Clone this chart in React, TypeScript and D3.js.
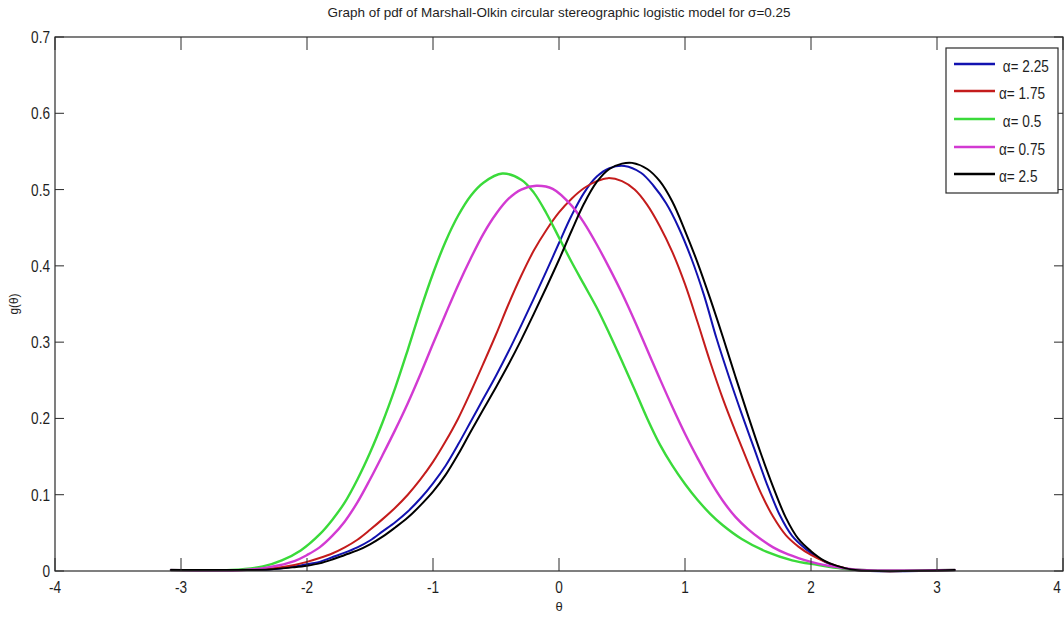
import React from 'react'
import * as d3 from 'd3'

// legend order = draw order (black ends up on top)
const seriesLabels = [' α= 2.25', 'α= 1.75', ' α= 0.5', 'α= 0.75', 'α= 2.5']
const seriesColors = ['#1212b0', '#c41c1c', '#3ada3a', '#d23ad2', '#000000']

// θ samples and g(θ) values, one pair per α
const thetaA225 = [-3.08, -2.5, -2.3, -2.1, -2, -1.9, -1.8, -1.7, -1.6, -1.5, -1.4, -1.3, -1.2, -1.1, -1, -0.9, -0.8, -0.7, -0.6, -0.5, -0.4, -0.3, -0.2, -0.1, 0, 0.1, 0.2, 0.3, 0.4, 0.52, 0.65, 0.75, 0.85, 0.95, 1.05, 1.15, 1.25, 1.35, 1.45, 1.55, 1.65, 1.75, 1.85, 1.95, 2.05, 2.15, 2.35, 3.14]
const gA225 = [0, 0.001, 0.002, 0.006, 0.009, 0.012, 0.018, 0.024, 0.031, 0.04, 0.052, 0.064, 0.078, 0.095, 0.115, 0.138, 0.166, 0.196, 0.226, 0.256, 0.288, 0.322, 0.357, 0.393, 0.43, 0.466, 0.496, 0.517, 0.528, 0.531, 0.522, 0.505, 0.482, 0.45, 0.41, 0.362, 0.305, 0.254, 0.206, 0.16, 0.114, 0.074, 0.046, 0.03, 0.018, 0.009, 0.001, 0]

const thetaA175 = [-3.08, -2.5, -2.3, -2.1, -2, -1.9, -1.8, -1.7, -1.6, -1.5, -1.4, -1.3, -1.2, -1.1, -1, -0.9, -0.8, -0.7, -0.6, -0.5, -0.4, -0.3, -0.2, -0.1, 0, 0.1, 0.2, 0.3, 0.39, 0.5, 0.6, 0.7, 0.8, 0.9, 1, 1.1, 1.2, 1.3, 1.4, 1.5, 1.6, 1.7, 1.8, 1.9, 2, 2.1, 2.2, 2.35, 3.14]
const gA175 = [0, 0.001, 0.003, 0.008, 0.012, 0.017, 0.023, 0.031, 0.041, 0.054, 0.068, 0.083, 0.1, 0.12, 0.143, 0.17, 0.2, 0.235, 0.272, 0.31, 0.35, 0.387, 0.42, 0.447, 0.47, 0.488, 0.502, 0.511, 0.515, 0.511, 0.5, 0.48, 0.452, 0.418, 0.376, 0.326, 0.274, 0.226, 0.183, 0.142, 0.103, 0.071, 0.047, 0.032, 0.021, 0.013, 0.007, 0.001, 0]

const thetaA05 = [-3.08, -2.6, -2.35, -2.2, -2.05, -1.9, -1.8, -1.7, -1.6, -1.5, -1.4, -1.3, -1.2, -1.1, -1, -0.9, -0.8, -0.7, -0.6, -0.45, -0.3, -0.2, -0.1, 0, 0.1, 0.2, 0.3, 0.4, 0.5, 0.6, 0.7, 0.8, 0.9, 1, 1.1, 1.2, 1.3, 1.45, 1.65, 1.85, 2.05, 2.25, 2.4, 3.14]
const gA05 = [0, 0.001, 0.006, 0.014, 0.027, 0.048, 0.067, 0.09, 0.12, 0.155, 0.195, 0.24, 0.29, 0.342, 0.39, 0.432, 0.466, 0.492, 0.509, 0.521, 0.513, 0.496, 0.469, 0.437, 0.405, 0.375, 0.345, 0.311, 0.275, 0.238, 0.2, 0.166, 0.138, 0.114, 0.093, 0.075, 0.06, 0.042, 0.025, 0.014, 0.008, 0.003, 0.001, 0]

const thetaA075 = [-3.08, -2.5, -2.3, -2.1, -2, -1.9, -1.8, -1.7, -1.6, -1.5, -1.4, -1.3, -1.2, -1.1, -1, -0.9, -0.8, -0.7, -0.6, -0.5, -0.4, -0.3, -0.18, -0.05, 0.1, 0.2, 0.3, 0.4, 0.5, 0.6, 0.7, 0.8, 0.9, 1, 1.1, 1.2, 1.3, 1.4, 1.5, 1.6, 1.7, 1.8, 1.9, 2, 2.1, 2.25, 2.4, 3.14]
const gA075 = [0, 0.001, 0.005, 0.013, 0.021, 0.031, 0.046, 0.065, 0.09, 0.12, 0.152, 0.185, 0.22, 0.258, 0.298, 0.337, 0.375, 0.41, 0.442, 0.468, 0.488, 0.5, 0.505, 0.501, 0.479, 0.456, 0.428, 0.397, 0.364, 0.328, 0.29, 0.252, 0.215, 0.18, 0.148, 0.118, 0.092, 0.071, 0.055, 0.042, 0.031, 0.023, 0.017, 0.012, 0.008, 0.004, 0.001, 0]

const thetaA25 = [-3.08, -2.5, -2.3, -2.1, -2, -1.9, -1.8, -1.7, -1.6, -1.5, -1.4, -1.3, -1.2, -1.1, -1, -0.9, -0.8, -0.7, -0.6, -0.5, -0.4, -0.3, -0.2, -0.1, 0, 0.1, 0.2, 0.3, 0.4, 0.5, 0.58, 0.7, 0.8, 0.9, 1, 1.1, 1.2, 1.3, 1.4, 1.5, 1.6, 1.7, 1.8, 1.9, 2, 2.1, 2.2, 2.35, 3.14]
const gA25 = [0, 0.001, 0.002, 0.005, 0.007, 0.01, 0.015, 0.021, 0.027, 0.035, 0.045, 0.057, 0.07, 0.086, 0.104, 0.126, 0.153, 0.183, 0.212, 0.241, 0.271, 0.303, 0.337, 0.372, 0.408, 0.446, 0.482, 0.51, 0.527, 0.534, 0.535, 0.527, 0.511, 0.484, 0.446, 0.404, 0.357, 0.307, 0.255, 0.204, 0.155, 0.11, 0.07, 0.042, 0.026, 0.014, 0.007, 0.001, 0]

const seriesTheta = [thetaA225, thetaA175, thetaA05, thetaA075, thetaA25]
const seriesG = [gA225, gA175, gA05, gA075, gA25]

const xTicks = [-4, -3, -2, -1, 0, 1, 2, 3, 4]
const yTicks = [0, 0.1, 0.2, 0.3, 0.4, 0.5, 0.6, 0.7]

const W = 1064
const H = 618
const left = 55, right = 1063, top = 37, bottom = 571
const font = '"Liberation Sans", Arial, sans-serif'
const axisColor = '#2a2a2a'
const textColor = '#1e1e1e'
const squeeze = 0.85 // the picture's lettering is condensed

export default function App() {
  const x = d3.scaleLinear().domain([-4, 4]).range([left, right])
  const y = d3.scaleLinear().domain([0, 0.7]).range([bottom, top])
  const line = d3.line<[number, number]>()
    .x(d => x(d[0]))
    .y(d => Math.min(y(d[1]), bottom - 1))
    .curve(d3.curveCatmullRom.alpha(0.5))

  const yFmt = (v: number) => (v === 0 ? '0' : d3.format('.1f')(v))

  // legend
  const lgX = 946, lgY = 48, lgW = 112, lgH = 145
  const rowY = [64, 91, 119, 147, 174]

  return (
    <div style={{ position: 'absolute', left: 0, top: 0 }}>
      <svg width={W} height={H} style={{ display: 'block', background: '#fff' }} fontFamily={font}>
        <text x={559} y={17} textAnchor="middle" fontSize={13} fill={textColor}
          textLength={463} lengthAdjust="spacingAndGlyphs">
          Graph of pdf of Marshall-Olkin circular stereographic logistic model for σ=0.25
        </text>

        {/* curves */}
        <g fill="none" strokeLinejoin="round" strokeLinecap="round">
          {seriesTheta.map((th, i) => (
            <path
              key={i}
              d={line(th.map((t, k) => [t, seriesG[i][k]] as [number, number])) || ''}
              stroke={seriesColors[i]}
              strokeWidth={i === 2 || i === 3 ? 2.4 : 2}
            />
          ))}
        </g>

        {/* axes box */}
        <rect x={left} y={top} width={right - left} height={bottom - top} fill="none" stroke={axisColor} strokeWidth={1.2} />
        {xTicks.map(t => (
          <g key={'x' + t}>
            <line x1={x(t)} x2={x(t)} y1={bottom} y2={bottom - 13} stroke={axisColor} />
            <line x1={x(t)} x2={x(t)} y1={top} y2={top + 13} stroke={axisColor} />
            <text transform={`translate(${Math.min(x(t), 1057)},593) scale(${squeeze},1)`}
              textAnchor="middle" fontSize={16} fill={textColor}>{String(t)}</text>
          </g>
        ))}
        {yTicks.map(t => (
          <g key={'y' + t}>
            <line x1={left} x2={left + 9} y1={y(t)} y2={y(t)} stroke={axisColor} />
            <line x1={right} x2={right - 9} y1={y(t)} y2={y(t)} stroke={axisColor} />
            <text transform={`translate(50,${y(t) + 6}) scale(${squeeze},1)`}
              textAnchor="end" fontSize={16} fill={textColor}>{yFmt(t)}</text>
          </g>
        ))}

        <text x={559} y={611} textAnchor="middle" fontSize={13} fill={textColor}>θ</text>
        <text transform="translate(18,304) rotate(-90) scale(0.9,1)" textAnchor="middle" fontSize={13} fill={textColor}>g(θ)</text>

        {/* legend */}
        <rect x={lgX} y={lgY} width={lgW} height={lgH} fill="#fff" stroke={axisColor} strokeWidth={1.2} />
        {seriesLabels.map((lab, i) => (
          <g key={lab}>
            <line x1={954} x2={995} y1={rowY[i]} y2={rowY[i]} stroke={seriesColors[i]} strokeWidth={2.4} />
            <text transform={`translate(999,${rowY[i] + 8}) scale(${squeeze},1)`}
              fontSize={16} fill={textColor} style={{ whiteSpace: 'pre' }}>{lab}</text>
          </g>
        ))}
      </svg>
    </div>
  )
}
